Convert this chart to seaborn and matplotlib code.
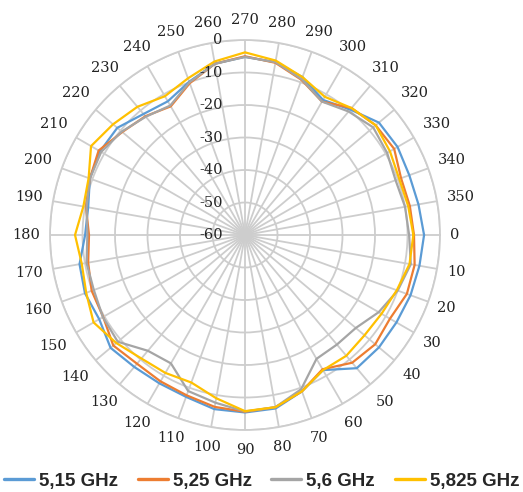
import numpy as np
import pandas as pd
import matplotlib
matplotlib.use("Agg")
import matplotlib.pyplot as plt
import seaborn as sns

# angles in degrees, clockwise from east (0 at right, 90 at bottom)
angles = list(range(0, 360, 10))

# received level in dB, one value per 10 degrees
s515 = [-4.9, -5.5, -5.8, -6.2, -6.2, -6.5, -12.0, -8.8, -5.8, -5.4,
        -5.6, -7.0, -7.3, -7.0, -6.0, -8.2, -7.6, -8.3, -10.8, -11.0,
        -9.2, -8.5, -8.7, -11.4, -12.5, -9.8, -6.5, -5.2, -6.0, -8.3,
        -12.0, -9.6, -6.2, -5.8, -6.2, -5.8]
s525 = [-8.0, -7.0, -7.0, -8.5, -7.7, -8.7, -12.3, -8.8, -6.2, -5.6,
        -6.3, -7.5, -8.0, -8.3, -7.1, -9.6, -9.8, -11.0, -12.0, -10.3,
        -9.2, -8.0, -10.7, -12.3, -14.3, -10.3, -6.5, -5.0, -6.2, -9.2,
        -12.6, -9.0, -7.5, -7.0, -8.9, -8.5]
s56 = [-9.5, -8.2, -10.0, -12.5, -15.5, -16.0, -16.0, -9.5, -6.2, -5.7,
       -7.6, -8.9, -14.4, -13.5, -8.9, -9.5, -10.5, -10.5, -11.5, -10.5,
       -9.2, -8.9, -10.5, -12.5, -14.0, -10.0, -6.5, -5.2, -6.0, -9.0,
       -12.6, -10.4, -8.5, -9.5, -10.7, -10.0]
s5825 = [-8.2, -8.6, -10.3, -11.5, -12.0, -11.5, -12.0, -8.8, -6.2, -5.8,
         -9.0, -11.7, -11.0, -10.4, -8.3, -6.2, -8.0, -9.0, -7.7, -9.5,
         -8.8, -5.3, -7.0, -8.5, -10.7, -8.7, -5.8, -3.8, -5.5, -8.3,
         -10.9, -9.0, -7.5, -8.5, -9.5, -9.0]

series_names = ["5,15 GHz", "5,25 GHz", "5,6 GHz", "5,825 GHz"]
series_colors = ["#5B9BD5", "#ED7D31", "#A5A5A5", "#FFC000"]
r_ticks = [-60, -50, -40, -30, -20, -10, 0]

# long table, each curve closed back to its first point
rows = []
for name, vals in zip(series_names, [s515, s525, s56, s5825]):
    for a, v in zip(angles + [360], vals + [vals[0]]):
        rows.append({"theta": np.deg2rad(a), "db": v, "series": name})
df = pd.DataFrame(rows)

sns.set_style("white")
fig = plt.figure(figsize=(5.23, 4.92), dpi=100)
ax = fig.add_axes([0.0956, 0.126, 0.7457, 0.7927], projection="polar")

sns.lineplot(data=df, x="theta", y="db", hue="series", hue_order=series_names,
             palette=series_colors, sort=False, estimator=None, linewidth=1.6,
             legend=False, ax=ax)

ax.set_theta_zero_location("E")
ax.set_theta_direction(-1)
ax.set_ylim(-60, 0)
ax.set_yticks(r_ticks)
ax.set_yticklabels([])
ax.set_xticks(np.deg2rad(angles))
ax.set_xticklabels([])
ax.set_xlabel("")
ax.set_ylabel("")
ax.grid(True, color="#CDCDCD", linewidth=1.3)
ax.spines["polar"].set_color("#CDCDCD")
ax.spines["polar"].set_linewidth(1.3)

lab_font = dict(family="DejaVu Serif", fontsize=10.5, color="#222222")

# angle labels outside the ring, edge kept a small gap from the circle
for a in angles:
    c, s = np.cos(np.deg2rad(a)), np.sin(np.deg2rad(a))
    w = 9.6 * len(str(a)) + 1
    h = 22
    d = 9 + min(w / (2 * abs(c)) if abs(c) > 1e-6 else 1e9,
                h / (2 * abs(s)) if abs(s) > 1e-6 else 1e9)
    ax.annotate(str(a), xy=(np.deg2rad(a), 0), xytext=(d * c * 0.72, -d * s * 0.72),
                textcoords="offset points", ha="center", va="center",
                annotation_clip=False, **lab_font)

# radial labels just left of the 270 line
for r in r_ticks:
    ax.annotate(str(r), xy=(np.deg2rad(270), r), xytext=(-16, 0),
                textcoords="offset points", ha="right", va="center", **lab_font)

handles = ax.get_lines()[:4]
fig.legend(handles, series_names, loc="center", bbox_to_anchor=(0.5, 0.022),
           ncol=4, frameon=False, handlelength=1.6, handletextpad=0.27,
           columnspacing=1.05, borderpad=0.1,
           prop={"family": "Liberation Sans", "weight": "bold", "size": 13.5})
for h in fig.legends[0].get_lines():
    h.set_linewidth(2.4)

fig.savefig("out.png", dpi=100)
